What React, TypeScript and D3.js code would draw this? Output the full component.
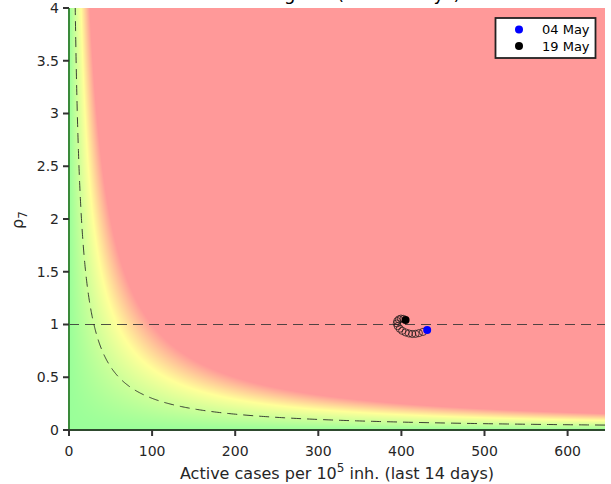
import React, { useMemo } from 'react';
import * as d3 from 'd3';

const W = 611;
const H = 484;
const margin = { left: 69, right: 6, top: 8, bottom: 54 };

const xDomain = [0, 645];
const yDomain = [0, 4];
const xTicks = [0, 100, 200, 300, 400, 500, 600];
const yTicks = [0, 0.5, 1, 1.5, 2, 2.5, 3, 3.5, 4];
const yTickLabels = ['0', '0.5', '1', '1.5', '2', '2.5', '3', '3.5', '4'];

const dates = ['04 May', '05 May', '06 May', '07 May', '08 May', '09 May', '10 May', '11 May',
  '12 May', '13 May', '14 May', '15 May', '16 May', '17 May', '18 May', '19 May'];
const activeCases = [431, 426, 421, 417, 413, 409, 405, 401, 398, 395.5, 394.5, 395, 397, 399.5, 402.5, 405];
const rho7 = [0.948, 0.93, 0.918, 0.911, 0.91, 0.915, 0.925, 0.94, 0.96, 0.985, 1.01, 1.032, 1.048, 1.056, 1.053, 1.043];

const epgReference = 30;
const colorStops = ['#00ff00', '#ffff00', '#ff0000'];
const colorDomain = [0, 58, 100];
const bgAlpha = 0.4;

const titleText = 'Risk diagram (last 14 days)';
const xLabel = 'Active cases per 10';
const xLabelSup = '5';
const xLabelTail = ' inh. (last 14 days)';

export default function App() {
  const pw = W - margin.left - margin.right;
  const ph = H - margin.top - margin.bottom;
  const x = d3.scaleLinear().domain(xDomain).range([margin.left, margin.left + pw]);
  const y = d3.scaleLinear().domain(yDomain).range([margin.top + ph, margin.top]);

  const bg = useMemo(() => {
    const canvas = document.createElement('canvas');
    canvas.width = pw;
    canvas.height = ph;
    const ctx = canvas.getContext('2d');
    if (!ctx) return '';
    const img = ctx.createImageData(pw, ph);
    const cmap = d3.scaleLinear<string>().domain(colorDomain).range(colorStops)
      .interpolate(d3.interpolateRgb).clamp(true);
    const N = 1001;
    const lut: number[][] = [];
    for (let k = 0; k < N; k++) {
      const c = d3.rgb(cmap((k / (N - 1)) * 100));
      lut.push([
        255 * (1 - bgAlpha) + c.r * bgAlpha,
        255 * (1 - bgAlpha) + c.g * bgAlpha,
        255 * (1 - bgAlpha) + c.b * bgAlpha,
      ]);
    }
    for (let j = 0; j < ph; j++) {
      const r = y.invert(margin.top + j + 0.5);
      for (let i = 0; i < pw; i++) {
        const a = x.invert(margin.left + i + 0.5);
        const epg = Math.max(0, Math.min(100, a * r));
        const c = lut[Math.round((epg / 100) * (N - 1))];
        const idx = (j * pw + i) * 4;
        img.data[idx] = c[0];
        img.data[idx + 1] = c[1];
        img.data[idx + 2] = c[2];
        img.data[idx + 3] = 255;
      }
    }
    ctx.putImageData(img, 0, 0);
    return canvas.toDataURL();
  }, []);

  const rhoMin = epgReference / xDomain[1];
  const curvePts = d3.range(0, 401).map((k) => {
    const r = rhoMin * Math.pow(yDomain[1] / rhoMin, k / 400);
    return [epgReference / r, r] as [number, number];
  });
  const curve = d3.line<[number, number]>().x((d) => x(d[0])).y((d) => y(d[1]))(curvePts) || '';

  const pts = activeCases.map((a, i) => ({ a, r: rho7[i], d: dates[i] }));
  const last = pts.length - 1;

  return (
    <svg width={W} height={H} style={{ position: 'absolute', left: 0, top: 0, fontFamily: 'DejaVu Sans, sans-serif' }}>
      <defs>
        <clipPath id="plot">
          <rect x={margin.left} y={margin.top} width={pw} height={ph} />
        </clipPath>
      </defs>
      <rect x={0} y={0} width={W} height={H} fill="#fff" />
      {bg && <image href={bg} x={margin.left} y={margin.top} width={pw} height={ph} preserveAspectRatio="none" />}
      <g clipPath="url(#plot)">
        <line x1={x(xDomain[0])} x2={x(xDomain[1])} y1={y(1)} y2={y(1)} stroke="#333" strokeWidth={1} strokeDasharray="10,6" opacity={0.85} />
        <path d={curve} fill="none" stroke="#222" strokeWidth={1} strokeDasharray="10,6" opacity={0.85} />
        {pts.slice(1, last).map((p, i) => (
          <circle key={i} cx={x(p.a)} cy={y(p.r)} r={3.6} fill="none" stroke="#111" strokeWidth={0.7} />
        ))}
        <circle cx={x(pts[0].a)} cy={y(pts[0].r)} r={4} fill="#0000ff" />
        <circle cx={x(pts[last].a)} cy={y(pts[last].r)} r={4} fill="#000" />
      </g>
      <line x1={margin.left} x2={margin.left} y1={margin.top} y2={margin.top + ph} stroke="#3a8a3a" strokeWidth={2} />
      <line x1={margin.left - 1} x2={margin.left + pw} y1={margin.top + ph} y2={margin.top + ph} stroke="#2e4a2e" strokeWidth={2} />
      {xTicks.map((t) => (
        <g key={t}>
          <line x1={x(t)} x2={x(t)} y1={margin.top + ph} y2={margin.top + ph + 6} stroke="#333" strokeWidth={2} />
          <text x={x(t)} y={456} textAnchor="middle" fontSize={14} fill="#262626">{t}</text>
        </g>
      ))}
      {yTicks.map((t, i) => (
        <g key={t}>
          <line x1={margin.left - 6} x2={margin.left} y1={y(t)} y2={y(t)} stroke="#333" strokeWidth={2} />
          <text x={59} y={y(t)} dy="0.35em" textAnchor="end" fontSize={14} fill="#262626">{yTickLabels[i]}</text>
        </g>
      ))}
      <text x={337} y={479} textAnchor="middle" fontSize={16} fill="#262626">
        {xLabel}
        <tspan dy={-7} fontSize={12}>{xLabelSup}</tspan>
        <tspan dy={7}>{xLabelTail}</tspan>
      </text>
      <text transform="translate(23,220) rotate(-90)" textAnchor="middle" fontSize={16} fill="#262626">
        ρ<tspan dy={4} fontSize={12}>7</tspan>
      </text>
      <text x={337} y={0} textAnchor="middle" fontSize={18} fill="#000">{titleText}</text>
      <rect x={495.5} y={18} width={100} height={40} fill="#fff" stroke="#222" strokeWidth={1.8} />
      <circle cx={519} cy={29.5} r={4} fill="#0000ff" />
      <text x={542} y={34} fontSize={13} fill="#000">{dates[0]}</text>
      <circle cx={519} cy={46} r={4} fill="#000" />
      <text x={542} y={51} fontSize={13} fill="#000">{dates[last]}</text>
    </svg>
  );
}
